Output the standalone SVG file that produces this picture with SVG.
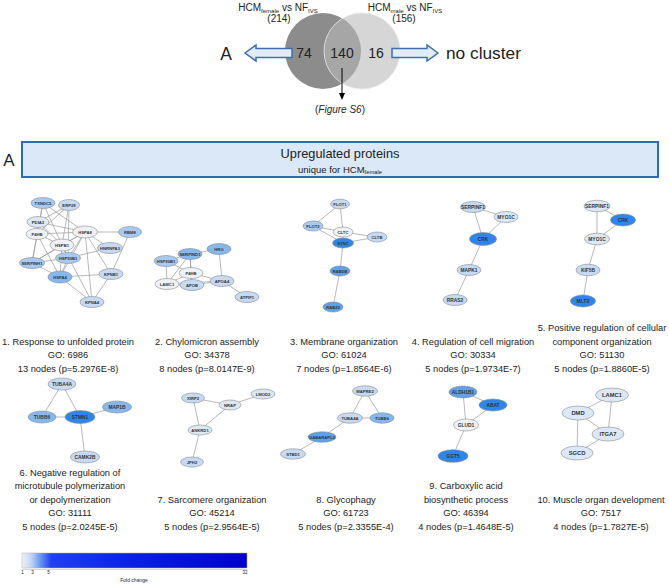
<svg xmlns="http://www.w3.org/2000/svg" width="669" height="585" viewBox="0 0 669 585">
<defs>
<style>
.t{font-family:"Liberation Sans",Arial,sans-serif;fill:#222}
.cap{font-family:"Liberation Sans",Arial,sans-serif;font-size:9.3px;fill:#222;text-anchor:middle}
.e{stroke:#9a9a9a;stroke-width:0.7;fill:none}
.n{stroke:#8a8a8a;stroke-width:0.6}
.l{font-family:"Liberation Sans",Arial,sans-serif;font-weight:bold;fill:#333;text-anchor:middle;dominant-baseline:central}
.s1 .l{font-size:4.2px}
.s2 .l{font-size:4.9px}
.s3 .l{font-size:5.8px}
.w{fill:#eef2f8}.v1{fill:#dde8f6}.v2{fill:#c6daf4}.v3{fill:#a8caf2}.v4{fill:#86b8f0}.v5{fill:#5fa0ee}.v6{fill:#2e86ec}
.ha{fill:#e1ecf7;stroke:#3f6fae;stroke-width:1.5}
</style>
<linearGradient id="fc" x1="0" y1="0" x2="1" y2="0">
<stop offset="0" stop-color="#eef2fa"/>
<stop offset="0.04" stop-color="#c4d6f6"/>
<stop offset="0.08" stop-color="#6a9af2"/>
<stop offset="0.13" stop-color="#2040f2"/>
<stop offset="0.45" stop-color="#0a24e6"/>
<stop offset="1" stop-color="#0000cc"/>
</linearGradient>
<clipPath id="cl"><circle cx="323" cy="51" r="38"/></clipPath>
</defs>

<!-- Venn -->
<g id="venn">
<circle cx="323" cy="51" r="38" fill="#8c8c8c"/>
<circle cx="362" cy="51" r="38" fill="#d6d6d6"/>
<circle cx="362" cy="51" r="38" fill="#a6a6a6" clip-path="url(#cl)"/>
<circle cx="362" cy="51" r="38" fill="none" stroke="#e4e4e4" stroke-width="0.8"/>
<text class="t" x="304" y="57.5" font-size="14" text-anchor="middle">74</text>
<text class="t" x="342" y="57.5" font-size="14" text-anchor="middle">140</text>
<text class="t" x="376" y="57.5" font-size="14" text-anchor="middle">16</text>
<text class="t" x="278" y="10.5" font-size="10" text-anchor="middle" fill="#333">HCM<tspan font-size="6" dy="2">female</tspan><tspan dy="-2"> vs NF</tspan><tspan font-size="6" dy="2">IVS</tspan></text>
<text class="t" x="279" y="22" font-size="10" text-anchor="middle" fill="#333">(214)</text>
<text class="t" x="405" y="10.5" font-size="10" text-anchor="middle" fill="#333">HCM<tspan font-size="6" dy="2">male</tspan><tspan dy="-2"> vs NF</tspan><tspan font-size="6" dy="2">IVS</tspan></text>
<text class="t" x="404" y="22" font-size="10" text-anchor="middle" fill="#333">(156)</text>
</g>
<g id="arrowA">
<path class="ha" d="M245,53 L256,45 L256,48.5 L292,48.5 L292,57.5 L256,57.5 L256,61 Z"/>
<text class="t" x="226" y="59.5" font-size="17.5" text-anchor="middle">A</text>
</g>
<g id="arrowNo">
<path class="ha" d="M438,53 L427,45 L427,48.5 L392,48.5 L392,57.5 L427,57.5 L427,61 Z"/>
<text class="t" x="446" y="59" font-size="17.3">no cluster</text>
</g>
<g id="arrowS6">
<line x1="342" y1="68" x2="342" y2="94" stroke="#000" stroke-width="1"/>
<polygon points="342,100 339,93 345,93" fill="#000"/>
<text class="t" x="340" y="112.5" font-size="10" text-anchor="middle" fill="#333">(<tspan font-style="italic">Figure S6</tspan>)</text>
</g>

<!-- Banner -->
<g id="banner">
<text class="t" x="9" y="166" font-size="17" text-anchor="middle">A</text>
<rect x="22" y="142" width="636" height="35" fill="#dbe8f7" stroke="#2e6bb5" stroke-width="2"/>
<text class="t" x="340" y="158" font-size="12.8" text-anchor="middle" fill="#333">Upregulated proteins</text>
<text class="t" x="340" y="172.5" font-size="9.5" text-anchor="middle" fill="#333">unique for HCM<tspan font-size="5.8" dy="1.5">female</tspan></text>
</g>

<!-- Connectors -->
<g id="connectors" class="e">
<!-- net1 -->
<path d="M43,203L37,234M43,203L62,245M43,203L85,232M43,203L32,263M69,205L38,222M69,205L37,234M69,205L62,245M69,205L68,258M38,222L85,232M38,222L62,245M37,234L85,232M37,234L62,245M37,234L32,263M37,234L60,277M85,232L130,232M85,232L62,245M85,232L110,248M85,232L68,258M85,232L32,263M85,232L111,274M85,232L60,277M85,232L92,302M130,232L111,274M62,245L32,263M62,245L60,277M62,245L68,258M62,245L92,302M68,258L32,263M68,258L110,248M68,258L60,277M32,263L60,277M60,277L111,274M60,277L92,302M111,274L92,302"/>
<!-- net2 -->
<path d="M166,261L190,254M166,261L167,284M166,261L191,273M190,254L219,249M190,254L191,273M190,254L167,284M190,254L192,285M219,249L222,281M191,273L167,284M191,273L222,281M167,284L192,285M167,284L222,281M192,285L222,281M222,281L247,297"/>
<!-- net3 -->
<path d="M340,204L313,226M340,204L343,232M313,226L343,232M313,226L343,243M343,232L377,237M343,243L377,237M343,232L343,243M343,243L340,271M340,271L333,307"/>
<!-- net4 -->
<path d="M473,207L506,217M473,207L483,239M506,217L483,239M483,239L469,270M469,270L455,300"/>
<!-- net5 -->
<path d="M597,206L623,220M597,206L597,239M623,220L597,239M597,239L588,270M588,270L583,301"/>
<!-- net6 -->
<path d="M62,384L42,417M62,384L80,417M42,417L80,417M80,417L117,407M80,417L85,457"/>
<!-- net7 -->
<path d="M193,398L230,405M193,398L200,430M230,405L200,430M230,405L263,394M200,430L192,462"/>
<!-- net8 -->
<path d="M365,391L350,418M365,391L382,418M350,418L382,418M350,418L322,437M322,437L293,454"/>
<!-- net9 -->
<path d="M463,392L493,405M463,392L466,425M493,405L466,425M466,425L453,456"/>
<!-- net10 -->
<path d="M612,395L578,413M612,395L608,434M578,413L608,434M578,413L577,453M608,434L577,453"/>
</g>

<!-- Network 1 -->
<g id="net1" class="s1">
<g id="n1-TXNDC5"><ellipse class="n v3" cx="43" cy="203" rx="12" ry="5.5"/><text class="l" x="43" y="203">TXNDC5</text></g>
<g id="n1-ERP29"><ellipse class="n v2" cx="69" cy="205" rx="10.5" ry="5.5"/><text class="l" x="69" y="205">ERP29</text></g>
<g id="n1-PDIA3"><ellipse class="n v1" cx="38" cy="222" rx="11" ry="5.5"/><text class="l" x="38" y="222">PDIA3</text></g>
<g id="n1-P4HB"><ellipse class="n w" cx="37" cy="234" rx="11" ry="5.5"/><text class="l" x="37" y="234">P4HB</text></g>
<g id="n1-HSPA8"><ellipse class="n w" cx="85" cy="232" rx="12.5" ry="6"/><text class="l" x="85" y="232">HSPA8</text></g>
<g id="n1-RBM8"><ellipse class="n v3" cx="130" cy="232" rx="11.5" ry="5.5"/><text class="l" x="130" y="232">RBM8</text></g>
<g id="n1-HSPB1"><ellipse class="n w" cx="62" cy="245" rx="12" ry="6"/><text class="l" x="62" y="245">HSPB1</text></g>
<g id="n1-HNRNPA3"><ellipse class="n v2" cx="110" cy="248" rx="12.5" ry="5.5"/><text class="l" x="110" y="248">HNRNPA3</text></g>
<g id="n1-HSP90B1"><ellipse class="n v3" cx="68" cy="258" rx="12.5" ry="5.5"/><text class="l" x="68" y="258">HSP90B1</text></g>
<g id="n1-SERPINH1"><ellipse class="n v3" cx="32" cy="263" rx="12.5" ry="5.5"/><text class="l" x="32" y="263">SERPINH1</text></g>
<g id="n1-HSPA4"><ellipse class="n v4" cx="60" cy="277" rx="12" ry="6"/><text class="l" x="60" y="277">HSPA4</text></g>
<g id="n1-KPNB1"><ellipse class="n v2" cx="111" cy="274" rx="12" ry="5.5"/><text class="l" x="111" y="274">KPNB1</text></g>
<g id="n1-KPNA4"><ellipse class="n v2" cx="92" cy="302" rx="12" ry="5.5"/><text class="l" x="92" y="302">KPNA4</text></g>
</g>

<!-- Network 2 -->
<g id="net2" class="s1">
<g id="n2-HSP90B1"><ellipse class="n v3" cx="166" cy="261" rx="12" ry="5.5"/><text class="l" x="166" y="261">HSP90B1</text></g>
<g id="n2-SERPIND1"><ellipse class="n v4" cx="190" cy="254" rx="12" ry="5.5"/><text class="l" x="190" y="254">SERPIND1</text></g>
<g id="n2-HRG"><ellipse class="n v4" cx="219" cy="249" rx="12" ry="5.5"/><text class="l" x="219" y="249">HRG</text></g>
<g id="n2-P4HB"><ellipse class="n w" cx="191" cy="273" rx="12" ry="5.5"/><text class="l" x="191" y="273">P4HB</text></g>
<g id="n2-LAMC1"><ellipse class="n w" cx="167" cy="284" rx="12" ry="5.5"/><text class="l" x="167" y="284">LAMC1</text></g>
<g id="n2-APOB"><ellipse class="n v2" cx="192" cy="285" rx="12" ry="5.5"/><text class="l" x="192" y="285">APOB</text></g>
<g id="n2-APOA4"><ellipse class="n v2" cx="222" cy="281" rx="12" ry="5.5"/><text class="l" x="222" y="281">APOA4</text></g>
<g id="n2-ATPIF1"><ellipse class="n v2" cx="247" cy="297" rx="12" ry="5.5"/><text class="l" x="247" y="297">ATPIF1</text></g>
</g>

<!-- Network 3 -->
<g id="net3" class="s1">
<g id="n3-FLOT1"><ellipse class="n v2" cx="340" cy="204" rx="9.5" ry="4.8"/><text class="l" x="340" y="204">FLOT1</text></g>
<g id="n3-FLOT2"><ellipse class="n v3" cx="313" cy="226" rx="10" ry="5"/><text class="l" x="313" y="226">FLOT2</text></g>
<g id="n3-CLTC"><ellipse class="n w" cx="343" cy="232" rx="10" ry="5"/><text class="l" x="343" y="232">CLTC</text></g>
<g id="n3-CLTB"><ellipse class="n v2" cx="377" cy="237" rx="10" ry="5"/><text class="l" x="377" y="237">CLTB</text></g>
<g id="n3-SYNC"><ellipse class="n v6" cx="343" cy="243" rx="10.5" ry="5"/><text class="l" x="343" y="243">SYNC</text></g>
<g id="n3-RAB5B"><ellipse class="n v5" cx="340" cy="271" rx="10" ry="5"/><text class="l" x="340" y="271">RAB5B</text></g>
<g id="n3-RAB22"><ellipse class="n v5" cx="333" cy="307" rx="10" ry="5"/><text class="l" x="333" y="307">RAB22</text></g>
</g>

<!-- Network 4 -->
<g id="net4" class="s2">
<g id="n4-SERPINF1"><ellipse class="n v2" cx="473" cy="207" rx="12.5" ry="5.5"/><text class="l" x="473" y="207">SERPINF1</text></g>
<g id="n4-MYO1C"><ellipse class="n v1" cx="506" cy="217" rx="12" ry="5.5"/><text class="l" x="506" y="217">MYO1C</text></g>
<g id="n4-CRK"><ellipse class="n v6" cx="483" cy="239" rx="13.5" ry="6.5"/><text class="l" x="483" y="239">CRK</text></g>
<g id="n4-MAPK1"><ellipse class="n v2" cx="469" cy="270" rx="12" ry="5.5"/><text class="l" x="469" y="270">MAPK1</text></g>
<g id="n4-RRAS2"><ellipse class="n v2" cx="455" cy="300" rx="12" ry="5.5"/><text class="l" x="455" y="300">RRAS2</text></g>
</g>

<!-- Network 5 -->
<g id="net5" class="s2">
<g id="n5-SERPINF1"><ellipse class="n v1" cx="597" cy="206" rx="13" ry="5.8"/><text class="l" x="597" y="206">SERPINF1</text></g>
<g id="n5-CRK"><ellipse class="n v6" cx="623" cy="220" rx="12.5" ry="6"/><text class="l" x="623" y="220">CRK</text></g>
<g id="n5-MYO1C"><ellipse class="n v1" cx="597" cy="239" rx="12.5" ry="5.8"/><text class="l" x="597" y="239">MYO1C</text></g>
<g id="n5-KIF5B"><ellipse class="n v2" cx="588" cy="270" rx="12" ry="5.8"/><text class="l" x="588" y="270">KIF5B</text></g>
<g id="n5-MLF2"><ellipse class="n v6" cx="583" cy="301" rx="12.5" ry="6"/><text class="l" x="583" y="301">MLF2</text></g>
</g>

<!-- Network 6 -->
<g id="net6" class="s2">
<g id="n6-TUBA4A"><ellipse class="n v2" cx="62" cy="384" rx="14" ry="6"/><text class="l" x="62" y="384">TUBA4A</text></g>
<g id="n6-TUBB6"><ellipse class="n v4" cx="42" cy="417" rx="14" ry="6"/><text class="l" x="42" y="417">TUBB6</text></g>
<g id="n6-STMN1"><ellipse class="n v6" cx="80" cy="417" rx="15" ry="6.5"/><text class="l" x="80" y="417">STMN1</text></g>
<g id="n6-MAP1B"><ellipse class="n v4" cx="117" cy="407" rx="14.5" ry="6"/><text class="l" x="117" y="407">MAP1B</text></g>
<g id="n6-CAMK2B"><ellipse class="n v2" cx="85" cy="457" rx="14.5" ry="6"/><text class="l" x="85" y="457">CAMK2B</text></g>
</g>

<!-- Network 7 -->
<g id="net7" class="s1">
<g id="n7-XIRP2"><ellipse class="n v2" cx="193" cy="398" rx="11.5" ry="5"/><text class="l" x="193" y="398">XIRP2</text></g>
<g id="n7-NRAP"><ellipse class="n v1" cx="230" cy="405" rx="11" ry="5"/><text class="l" x="230" y="405">NRAP</text></g>
<g id="n7-LMOD2"><ellipse class="n v1" cx="263" cy="394" rx="12" ry="5"/><text class="l" x="263" y="394">LMOD2</text></g>
<g id="n7-ANKRD1"><ellipse class="n v1" cx="200" cy="430" rx="12" ry="5"/><text class="l" x="200" y="430">ANKRD1</text></g>
<g id="n7-JPH2"><ellipse class="n v2" cx="192" cy="462" rx="11.5" ry="5"/><text class="l" x="192" y="462">JPH2</text></g>
</g>

<!-- Network 8 -->
<g id="net8" class="s1">
<g id="n8-MAPRE2"><ellipse class="n v2" cx="365" cy="391" rx="12.5" ry="5.2"/><text class="l" x="365" y="391">MAPRE2</text></g>
<g id="n8-TUBA4A"><ellipse class="n v2" cx="350" cy="418" rx="12.5" ry="5.2"/><text class="l" x="350" y="418">TUBA4A</text></g>
<g id="n8-TUBB6"><ellipse class="n v4" cx="382" cy="418" rx="12" ry="5.2"/><text class="l" x="382" y="418">TUBB6</text></g>
<g id="n8-GABARAPL2"><ellipse class="n v5" cx="322" cy="437" rx="14" ry="5.2"/><text class="l" x="322" y="437">GABARAPL2</text></g>
<g id="n8-STBD1"><ellipse class="n v2" cx="293" cy="454" rx="12.5" ry="5.2"/><text class="l" x="293" y="454">STBD1</text></g>
</g>

<!-- Network 9 -->
<g id="net9" class="s2">
<g id="n9-ALDH1B1"><ellipse class="n v5" cx="463" cy="392" rx="14" ry="6"/><text class="l" x="463" y="392">ALDH1B1</text></g>
<g id="n9-ABAT"><ellipse class="n v6" cx="493" cy="405" rx="14" ry="6"/><text class="l" x="493" y="405">ABAT</text></g>
<g id="n9-GLUD1"><ellipse class="n w" cx="466" cy="425" rx="12.5" ry="6"/><text class="l" x="466" y="425">GLUD1</text></g>
<g id="n9-GGT5"><ellipse class="n v6" cx="453" cy="456" rx="15" ry="6.3"/><text class="l" x="453" y="456">GGT5</text></g>
</g>

<!-- Network 10 -->
<g id="net10" class="s3">
<g id="n10-LAMC1"><ellipse class="n v1" cx="612" cy="395" rx="16.5" ry="7"/><text class="l" x="612" y="395">LAMC1</text></g>
<g id="n10-DMD"><ellipse class="n v1" cx="578" cy="413" rx="16" ry="7"/><text class="l" x="578" y="413">DMD</text></g>
<g id="n10-ITGA7"><ellipse class="n v1" cx="608" cy="434" rx="16" ry="7"/><text class="l" x="608" y="434">ITGA7</text></g>
<g id="n10-SGCD"><ellipse class="n v1" cx="577" cy="453" rx="16" ry="7"/><text class="l" x="577" y="453">SGCD</text></g>
</g>

<!-- Captions row 1 -->
<g id="captions1">
<text class="cap" x="68" y="344.5">1. Response to unfolded protein</text>
<text class="cap" x="68" y="358">GO: 6986</text>
<text class="cap" x="68" y="371.5">13 nodes (p=5.2976E-8)</text>
<text class="cap" x="207" y="344.5">2. Chylomicron assembly</text>
<text class="cap" x="207" y="358">GO: 34378</text>
<text class="cap" x="207" y="371.5">8 nodes (p=8.0147E-9)</text>
<text class="cap" x="344" y="344.5">3. Membrane organization</text>
<text class="cap" x="344" y="358">GO: 61024</text>
<text class="cap" x="344" y="371.5">7 nodes (p=1.8564E-6)</text>
<text class="cap" x="473" y="344.5">4. Regulation of cell migration</text>
<text class="cap" x="473" y="358">GO: 30334</text>
<text class="cap" x="473" y="371.5">5 nodes (p=1.9734E-7)</text>
<text class="cap" x="602" y="331">5. Positive regulation of cellular</text>
<text class="cap" x="602" y="344.5">component organization</text>
<text class="cap" x="602" y="358">GO: 51130</text>
<text class="cap" x="602" y="371.5">5 nodes (p=1.8860E-5)</text>
</g>

<!-- Captions row 2 -->
<g id="captions2">
<text class="cap" x="70" y="475.5">6. Negative regulation of</text>
<text class="cap" x="70" y="489">microtubule polymerization</text>
<text class="cap" x="70" y="502.5">or depolymerization</text>
<text class="cap" x="70" y="516">GO: 31111</text>
<text class="cap" x="70" y="529.5">5 nodes (p=2.0245E-5)</text>
<text class="cap" x="212" y="502.5">7. Sarcomere organization</text>
<text class="cap" x="212" y="516">GO: 45214</text>
<text class="cap" x="212" y="529.5">5 nodes (p=2.9564E-5)</text>
<text class="cap" x="346" y="502.5">8. Glycophagy</text>
<text class="cap" x="346" y="516">GO: 61723</text>
<text class="cap" x="346" y="529.5">5 nodes (p=2.3355E-4)</text>
<text class="cap" x="466" y="489">9. Carboxylic acid</text>
<text class="cap" x="466" y="502.5">biosynthetic process</text>
<text class="cap" x="466" y="516">GO: 46394</text>
<text class="cap" x="466" y="529.5">4 nodes (p=1.4648E-5)</text>
<text class="cap" x="601" y="502.5">10. Muscle organ development</text>
<text class="cap" x="601" y="516">GO: 7517</text>
<text class="cap" x="601" y="529.5">4 nodes (p=1.7827E-5)</text>
</g>

<!-- Colour bar -->
<g id="legend">
<rect x="22" y="553" width="225" height="15" fill="url(#fc)" stroke="#b0b0b0" stroke-width="0.5"/>
<line x1="22" y1="569.5" x2="247" y2="569.5" stroke="#999" stroke-width="0.4"/>
<text class="t" x="22.5" y="574" font-size="4.5" text-anchor="middle" fill="#444">1</text>
<text class="t" x="32.5" y="574" font-size="4.5" text-anchor="middle" fill="#444">3</text>
<text class="t" x="48.5" y="574" font-size="4.5" text-anchor="middle" fill="#444">5</text>
<text class="t" x="245" y="574" font-size="4.5" text-anchor="middle" fill="#444">32</text>
<text class="t" x="134" y="581.5" font-size="5" text-anchor="middle" fill="#444">Fold change</text>
</g>
</svg>
